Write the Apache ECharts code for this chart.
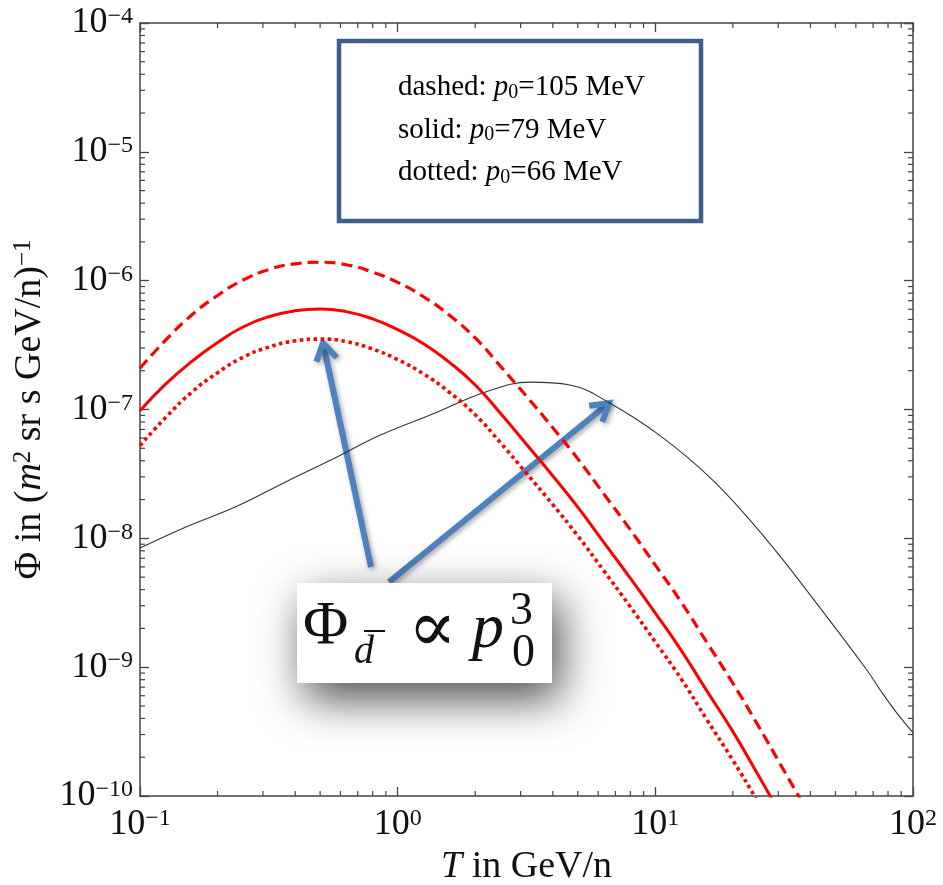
<!DOCTYPE html>
<html><head><meta charset="utf-8">
<script src="https://cdn.jsdelivr.net/npm/echarts@6/dist/echarts.min.js"></script>
<style>html,body{margin:0;padding:0;background:#fff}#c{width:943px;height:885px}</style>
</head><body><div id="c"></div>
<script>
// ---- data ----
const T_black   = [0.1, 0.15, 0.234, 0.366, 0.571, 0.853, 1.40, 2.18, 3.26, 4.66, 6.67, 10.4, 16.7, 27.1, 42.4, 66.2, 76, 86.6, 100];
const phi_black = [8.4e-9, 1.22e-8, 1.75e-8, 2.73e-8, 4.2e-8, 6.3e-8, 9.4e-8, 1.36e-7, 1.63e-7, 1.55e-7, 1.12e-7, 6.3e-8, 2.83e-8, 9.7e-9, 3.1e-9, 9.5e-10, 6.3e-10, 4.4e-10, 3.1e-10];

const T_red = [0.1, 0.126, 0.158, 0.2, 0.251, 0.316, 0.398, 0.501, 0.631, 0.794, 1.0, 1.26, 1.58, 2.0, 2.51, 3.16, 3.98, 5.01, 6.31, 7.94, 10.0, 12.6, 15.8, 20.0, 25.1, 31.6, 39.8];

const phi_dashed = [2.09e-7, 3.47e-7, 5.37e-7, 7.67e-7, 1.01e-6, 1.22e-6, 1.35e-6, 1.39e-6, 1.33e-6, 1.17e-6, 9.7e-7, 7.5e-7, 5.43e-7, 3.59e-7, 2.16e-7, 1.27e-7, 7.3e-8, 4.12e-8, 2.21e-8, 1.19e-8, 6.2e-9, 3.2e-9, 1.57e-9, 7.5e-10, 3.5e-10, 1.57e-10, 7.0e-11];
const phi_solid  = [9.8e-8, 1.58e-7, 2.34e-7, 3.31e-7, 4.37e-7, 5.25e-7, 5.83e-7, 6.03e-7, 5.75e-7, 5.07e-7, 4.17e-7, 3.24e-7, 2.34e-7, 1.55e-7, 9.3e-8, 5.37e-8, 3.09e-8, 1.74e-8, 9.3e-9, 5.0e-9, 2.63e-9, 1.35e-9, 6.6e-10, 3.16e-10, 1.45e-10, 6.5e-11, 3.0e-11];
const phi_dotted = [5.25e-8, 8.7e-8, 1.35e-7, 1.93e-7, 2.54e-7, 3.05e-7, 3.40e-7, 3.52e-7, 3.37e-7, 2.96e-7, 2.44e-7, 1.89e-7, 1.37e-7, 9.1e-8, 5.5e-8, 3.2e-8, 1.85e-8, 1.04e-8, 5.6e-9, 3.0e-9, 1.57e-9, 8.1e-10, 3.95e-10, 1.89e-10, 8.9e-11, 4.0e-11, 1.8e-11];

const xMin = 0.1, xMax = 100;
const yMin = 1e-10, yMax = 1e-4;
const legendLines = [['dashed: ', '105'], ['solid: ', '79'], ['dotted: ', '66']];

// ---- helpers ----
const FONT = '"Liberation Serif", "Times New Roman", serif';
const pair = (xs, ys) => xs.map((x, i) => [x, ys[i]]);
const minorX = [], minorY = [];
for (let e = -1; e < 2; e++) for (let m = 2; m <= 9; m++) minorX.push(+(m * Math.pow(10, e)).toPrecision(3));
for (let e = -10; e < -4; e++) for (let m = 2; m <= 9; m++) minorY.push(+(m * Math.pow(10, e)).toPrecision(3));

const supTxt = v => String(Math.round(Math.log10(v))).replace('-', '\u2212');
const tickRich = {
  b: {fontFamily: FONT, fontSize: 36, lineHeight: 36, color: '#111'},
  s: {fontFamily: FONT, fontSize: 24, lineHeight: 24, color: '#111', verticalAlign: 'top'}
};
const axisLineStyle = {color: '#444', width: 1.5};
const tickStyle = {color: '#444', width: 1.3};

function minorSeries(vals, dir) {
  return {
    type: 'custom', silent: true, clip: false, z: 3,
    data: vals.map(v => dir === 'y' ? [1, v] : [v, 1e-7]),
    renderItem: (params, api) => {
      const cs = params.coordSys;
      const p = api.coord([api.value(0), api.value(1)]);
      const L = 5, st = {stroke: '#444', lineWidth: 1.2};
      if (dir === 'y') return {type: 'group', children: [
        {type: 'line', shape: {x1: cs.x, y1: p[1], x2: cs.x + L, y2: p[1]}, style: st},
        {type: 'line', shape: {x1: cs.x + cs.width - L, y1: p[1], x2: cs.x + cs.width, y2: p[1]}, style: st}]};
      return {type: 'group', children: [
        {type: 'line', shape: {x1: p[0], y1: cs.y + cs.height, x2: p[0], y2: cs.y + cs.height - L}, style: st},
        {type: 'line', shape: {x1: p[0], y1: cs.y, x2: p[0], y2: cs.y + L}, style: st}]};
    }
  };
}

const chart = echarts.init(document.getElementById('c'), null, {renderer: 'canvas'});
const blue = '#4F81BD';
const arrowShadow = {shadowBlur: 5, shadowColor: 'rgba(0,0,0,0.35)', shadowOffsetX: 2, shadowOffsetY: 2};

function arrow(x1, y1, x2, y2) {
  const ang = Math.atan2(y2 - y1, x2 - x1), L = 20, a = 0.55;
  return {type: 'group', z: 100, children: [
    {type: 'line', shape: {x1, y1, x2, y2}, style: Object.assign({stroke: blue, lineWidth: 6}, arrowShadow)},
    {type: 'polyline', shape: {points: [
      [x2 - L * Math.cos(ang - a), y2 - L * Math.sin(ang - a)], [x2, y2],
      [x2 - L * Math.cos(ang + a), y2 - L * Math.sin(ang + a)]]},
      style: Object.assign({stroke: blue, lineWidth: 6, fill: null, lineJoin: 'miter', lineCap: 'butt'}, arrowShadow)}
  ]};
}

const legendTexts = legendLines.map((l, i) => ({
  type: 'text', left: 398, top: 73 + i * 42.5, z: 101,
  style: {
    text: '{r|' + l[0] + '}{i|p}{sb|0}{r|=' + l[1] + ' MeV}',
    rich: {
      r: {fontFamily: FONT, fontSize: 29, lineHeight: 30, color: '#111'},
      i: {fontFamily: FONT, fontSize: 29, fontStyle: 'italic', lineHeight: 30, color: '#111'},
      sb: {fontFamily: FONT, fontSize: 20, lineHeight: 20, color: '#111', verticalAlign: 'bottom'}
    }
  }
}));

const option = {
  backgroundColor: '#fff',
  animation: false,
  grid: {left: 140, right: 30, top: 23, bottom: 89, containLabel: false, outerBoundsMode: 'none'},
  xAxis: [{
    type: 'log', min: xMin, max: xMax, position: 'bottom',
    name: '{i|T}{r| in GeV/n}', nameLocation: 'middle', nameGap: 52,
    nameTextStyle: {rich: {
      i: {fontFamily: FONT, fontSize: 38, fontStyle: 'italic', color: '#111'},
      r: {fontFamily: FONT, fontSize: 38, color: '#111'}}},
    axisLine: {show: true, lineStyle: axisLineStyle},
    axisTick: {show: true, inside: true, length: 9, lineStyle: tickStyle},
    axisLabel: {margin: 11, formatter: v => '{b|10}{s|' + supTxt(v) + '}', rich: tickRich},
    splitLine: {show: false}, minorTick: {show: false}
  }, {
    type: 'log', min: xMin, max: xMax, position: 'top',
    axisLine: {show: true, lineStyle: axisLineStyle},
    axisTick: {show: true, inside: true, length: 9, lineStyle: tickStyle},
    axisLabel: {show: false}, splitLine: {show: false}
  }],
  yAxis: [{
    type: 'log', min: yMin, max: yMax, position: 'left',
    name: '{r|\u03A6 in (}{i|m}{s|2}{r| sr s GeV/n)}{s|\u22121}', nameLocation: 'middle', nameGap: 86, nameRotate: 90,
    nameTextStyle: {rich: {
      r: {fontFamily: FONT, fontSize: 38, lineHeight: 38, color: '#111'},
      i: {fontFamily: FONT, fontSize: 38, lineHeight: 38, fontStyle: 'italic', color: '#111'},
      s: {fontFamily: FONT, fontSize: 25, lineHeight: 25, color: '#111', verticalAlign: 'top'}}},
    axisLine: {show: true, lineStyle: axisLineStyle},
    axisTick: {show: true, inside: true, length: 9, lineStyle: tickStyle},
    axisLabel: {margin: 7, formatter: v => '{b|10}{s|' + supTxt(v) + '}', rich: tickRich},
    splitLine: {show: false}
  }, {
    type: 'log', min: yMin, max: yMax, position: 'right',
    axisLine: {show: true, lineStyle: axisLineStyle},
    axisTick: {show: true, inside: true, length: 9, lineStyle: tickStyle},
    axisLabel: {show: false}, splitLine: {show: false}
  }],
  series: [
    {type: 'line', name: 'background', data: pair(T_black, phi_black), showSymbol: false, smooth: 0.4,
     lineStyle: {color: '#333', width: 1.1}, z: 4},
    {type: 'line', name: 'dashed', data: pair(T_red, phi_dashed), showSymbol: false, smooth: 0.5,
     lineStyle: {color: '#ff0000', width: 3.2, type: [11, 6]}, z: 5},
    {type: 'line', name: 'solid', data: pair(T_red, phi_solid), showSymbol: false, smooth: 0.5,
     lineStyle: {color: '#ff0000', width: 3}, z: 5},
    {type: 'line', name: 'dotted', data: pair(T_red, phi_dotted), showSymbol: false, smooth: 0.5,
     lineStyle: {color: '#ff0000', width: 3.6, type: [3.5, 3.5]}, z: 5},
    minorSeries(minorX, 'x'),
    minorSeries(minorY, 'y')
  ],
  graphic: [
    {type: 'rect', z: 100, shape: {x: 339, y: 41, width: 362, height: 180},
     style: {fill: '#fff', stroke: '#3D5F8C', lineWidth: 4.5}},
    ...legendTexts,
    arrow(371, 567, 323, 343),
    arrow(389, 582, 609, 403),
    {type: 'rect', z: 102, shape: {x: 297, y: 583, width: 255, height: 100},
     style: {fill: '#fff', shadowBlur: 45, shadowColor: 'rgba(0,0,0,0.7)', shadowOffsetX: 8, shadowOffsetY: 16}},
    {type: 'text', z: 103, left: 303, top: 596, style: {text: '\u03A6', font: '62px ' + FONT, fill: '#111'}},
    {type: 'text', z: 103, left: 354, top: 632, style: {text: 'd', font: 'italic 40px ' + FONT, fill: '#111'}},
    {type: 'line', z: 103, shape: {x1: 364, y1: 631, x2: 385, y2: 631}, style: {stroke: '#111', lineWidth: 2}},
    {type: 'text', z: 103, left: 408, top: 596, style: {text: '\u221D', font: '72px "DejaVu Serif", ' + FONT, fill: '#111'}},
    {type: 'text', z: 103, left: 472, top: 598, style: {text: 'p', font: 'italic 64px ' + FONT, fill: '#111'}},
    {type: 'text', z: 103, left: 510, top: 589, style: {text: '3', font: '46px ' + FONT, fill: '#111'}},
    {type: 'text', z: 103, left: 512, top: 631, style: {text: '0', font: '46px ' + FONT, fill: '#111'}}
  ]
};
chart.setOption(option);
</script>
</body></html>
